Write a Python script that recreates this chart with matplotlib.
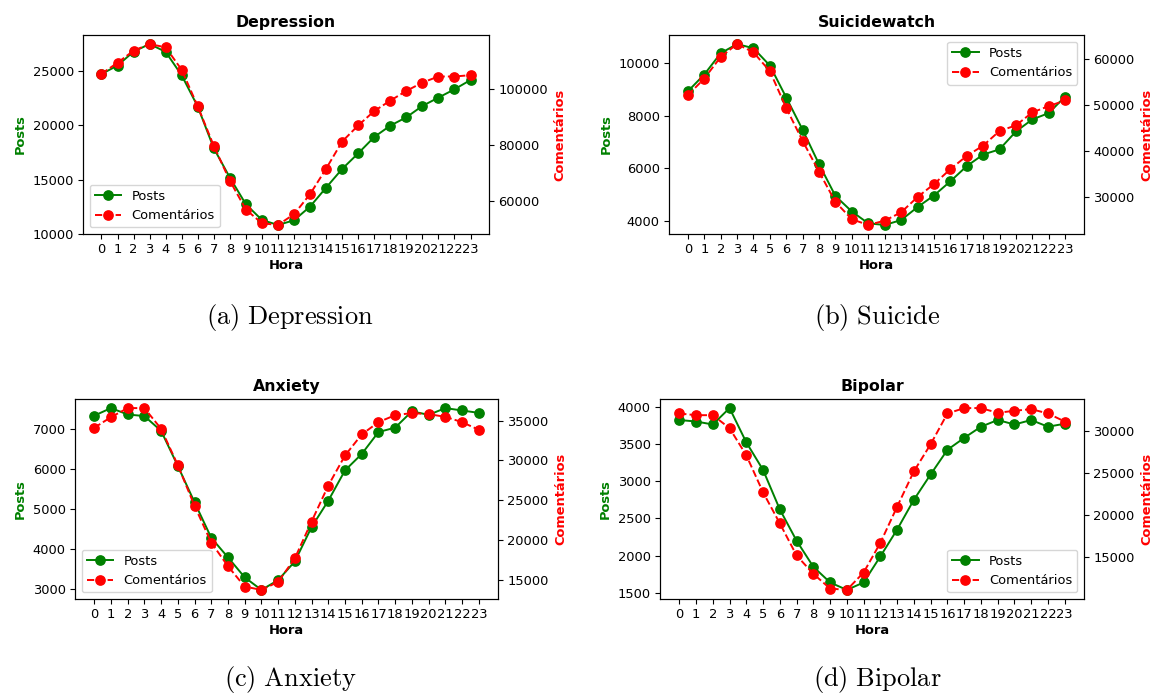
import matplotlib
matplotlib.use("Agg")
import matplotlib.pyplot as plt
from matplotlib.ticker import MultipleLocator

plt.rcParams['mathtext.fontset'] = 'cm'

hours = list(range(24))
hour_labels = [str(h) for h in hours]

dep_posts = [24750, 25530, 26820, 27520, 26800, 24630, 21740, 17890, 15180, 12710, 11260, 10800,
             11230, 12500, 14250, 15980, 17420, 18930, 19980, 20750, 21800, 22570, 23340, 24200]
dep_comments = [105530, 109490, 113810, 116200, 115020, 106970, 93870, 79700, 67210, 56880, 51950, 51350,
                55200, 62400, 71530, 81260, 87030, 92190, 95920, 99400, 102400, 104560, 104560, 105050]

sui_posts = [8930, 9570, 10380, 10730, 10570, 9910, 8690, 7460, 6150, 4940, 4350, 3900,
             3840, 4025, 4520, 4960, 5500, 6080, 6520, 6720, 7400, 7860, 8100, 8730]
sui_comments = [52170, 55800, 60510, 63330, 61520, 57390, 49350, 42170, 35430, 28840, 25070, 23840,
                24780, 26590, 29930, 32750, 36010, 38910, 41160, 44350, 45580, 48410, 49780, 51010]

anx_posts = [7340, 7530, 7370, 7330, 6960, 6080, 5170, 4280, 3790, 3290, 2975, 3220,
             3690, 4550, 5210, 5970, 6380, 6930, 7040, 7450, 7360, 7530, 7470, 7410]
anx_comments = [34120, 35460, 36600, 36600, 33990, 29410, 24290, 19660, 16680, 14120, 13700, 14710,
                17690, 22310, 26850, 30630, 33280, 34830, 35710, 35970, 35840, 35500, 34830, 33870]

bip_posts = [3820, 3800, 3760, 3980, 3520, 3150, 2620, 2200, 1850, 1640, 1540, 1640,
             1990, 2350, 2750, 3090, 3420, 3580, 3730, 3820, 3760, 3820, 3730, 3770]
bip_comments = [32060, 31860, 31860, 30320, 27110, 22720, 19040, 15240, 13060, 11320, 11160, 13220,
                16740, 21020, 25210, 28420, 32060, 32700, 32700, 32140, 32380, 32580, 32060, 31110]

titles = ["Depression", "Suicidewatch", "Anxiety", "Bipolar"]
captions = ["(a)\\ Depression", "(b)\\ Suicide", "(c)\\ Anxiety", "(d)\\ Bipolar"]
legend_locs = ["lower left", "upper right", "lower left", "lower right"]
posts_list = [dep_posts, sui_posts, anx_posts, bip_posts]
comments_list = [dep_comments, sui_comments, anx_comments, bip_comments]
posts_step = [5000, 2000, 1000, 500]
comments_step = [20000, 10000, 5000, 5000]

W, H = 1153, 693
fig = plt.figure(figsize=(W / 100, H / 100), dpi=100)

# axes boxes in pixels: left, top, right, bottom
boxes = [(83, 35, 489, 234), (669, 35, 1084, 234), (75, 399, 498, 599), (660, 399, 1084, 599)]
cap_pos = [(290, 324), (877, 324), (290, 686), (877, 686)]

fs = 9.4
for i in range(4):
    l, t, r, b = boxes[i]
    ax = fig.add_axes([l / W, 1 - b / H, (r - l) / W, (b - t) / H])
    p1, = ax.plot(hours, posts_list[i], '-o', color='green', lw=1.4, ms=6.7, label='Posts')
    ax2 = ax.twinx()
    p2, = ax2.plot(hours, comments_list[i], '--o', color='red', lw=1.4, ms=6.7, label='Comentários')
    ax.set_xticks(hours)
    ax.set_xticklabels(hour_labels)
    ax.yaxis.set_major_locator(MultipleLocator(posts_step[i]))
    ax2.yaxis.set_major_locator(MultipleLocator(comments_step[i]))
    ax.tick_params(labelsize=fs, length=3.3, pad=3.3)
    ax2.tick_params(labelsize=fs, length=3.3, pad=3.3)
    ax.set_title(titles[i], fontsize=11.3, fontweight='bold')
    ax.set_xlabel('Hora', fontsize=fs, fontweight='bold', labelpad=2)
    ax.set_ylabel('Posts', fontsize=fs, fontweight='bold', color='green')
    ax2.set_ylabel('Comentários', fontsize=fs, fontweight='bold', color='red')
    ax.legend([p1, p2], ['Posts', 'Comentários'], loc=legend_locs[i], fontsize=fs)
    fig.text(cap_pos[i][0] / W, 1 - cap_pos[i][1] / H, '$\\mathrm{' + captions[i] + '}$',
             fontsize=19, ha='center', va='baseline')

fig.savefig('out.png', dpi=100)
